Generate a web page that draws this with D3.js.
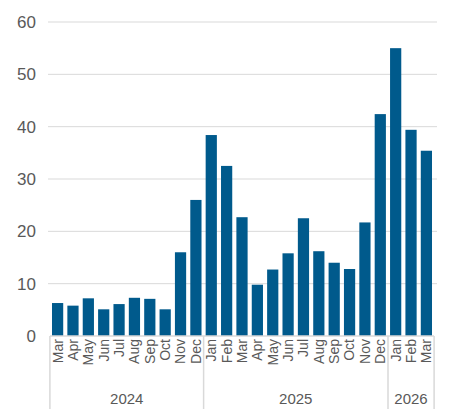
<!DOCTYPE html>
<html>
<head>
<script src="https://d3js.org/d3.v7.min.js"></script>
<style>
body { margin: 0; background: #fff; }
text { font-family: "Liberation Sans", Arial, sans-serif; fill: #595959; }
</style>
</head>
<body>
<div id="chart"></div>
<script>
const months = ['Mar','Apr','May','Jun','Jul','Aug','Sep','Oct','Nov','Dec',
  'Jan','Feb','Mar','Apr','May','Jun','Jul','Aug','Sep','Oct','Nov','Dec',
  'Jan','Feb','Mar'];
const years = ['2024','2024','2024','2024','2024','2024','2024','2024','2024','2024',
  '2025','2025','2025','2025','2025','2025','2025','2025','2025','2025','2025','2025',
  '2026','2026','2026'];
const values = [6.3,5.8,7.2,5.1,6.1,7.3,7.1,5.1,16,26,
  38.4,32.5,22.7,9.8,12.7,15.8,22.5,16.2,14,12.8,21.7,42.4,
  55,39.4,35.4];
const yTicks = [0,10,20,30,40,50,60];

const width = 457, height = 420;
const margin = { top: 22, right: 23, bottom: 84, left: 50 };
const innerW = width - margin.left - margin.right;
const innerH = height - margin.top - margin.bottom;

const svg = d3.select('#chart').append('svg')
  .attr('width', width).attr('height', height);
const g = svg.append('g').attr('transform', `translate(${margin.left},${margin.top})`);

const keys = months.map((m, i) => i);
const x = d3.scaleBand().domain(keys).range([0, innerW]).paddingInner(0.27).paddingOuter(0.13);
const y = d3.scaleLinear().domain([0, 60]).range([innerH, 0]);

// grid
g.selectAll('.grid').data(yTicks.filter(t => t > 0)).join('line')
  .attr('x1', -2).attr('x2', innerW + 3)
  .attr('y1', d => y(d)).attr('y2', d => y(d))
  .attr('stroke', '#d9d9d9').attr('stroke-width', 1);

g.selectAll('.ytick').data(yTicks).join('text')
  .attr('x', -14).attr('y', d => y(d)).attr('dy', '0.35em')
  .attr('text-anchor', 'end').attr('font-size', 17).text(d => d);

g.selectAll('.bar').data(values).join('rect')
  .attr('x', (d, i) => x(i)).attr('width', x.bandwidth())
  .attr('y', d => y(d)).attr('height', d => innerH - y(d))
  .attr('fill', '#005a8c');

// axis line
g.append('line').attr('x1', 0).attr('x2', innerW).attr('y1', innerH).attr('y2', innerH)
  .attr('stroke', '#d9d9d9').attr('stroke-width', 1.5);

// month labels
g.selectAll('.mlab').data(months).join('text')
  .attr('transform', (d, i) => `translate(${x(i) + x.bandwidth() / 2},${innerH + 3}) rotate(-90)`)
  .attr('text-anchor', 'end').attr('dy', '0.35em').attr('font-size', 14).text(d => d);

// year groups
const step = x.step();
const groups = d3.groups(keys, i => years[i]);
const bounds = [];
groups.forEach(([yr, idx]) => {
  const x0 = x(idx[0]) - (step - x.bandwidth()) / 2;
  const x1 = x(idx[idx.length - 1]) + x.bandwidth() + (step - x.bandwidth()) / 2;
  bounds.push(x0, x1);
  g.append('text').attr('x', (x0 + x1) / 2).attr('y', innerH + 68)
    .attr('text-anchor', 'middle').attr('font-size', 15).text(yr);
});
[...new Set(bounds.map(b => Math.round(b * 10) / 10))].forEach(b => {
  g.append('line').attr('x1', b).attr('x2', b).attr('y1', innerH).attr('y2', innerH + 73)
    .attr('stroke', '#d9d9d9').attr('stroke-width', 1.5);
});
</script>
</body>
</html>
